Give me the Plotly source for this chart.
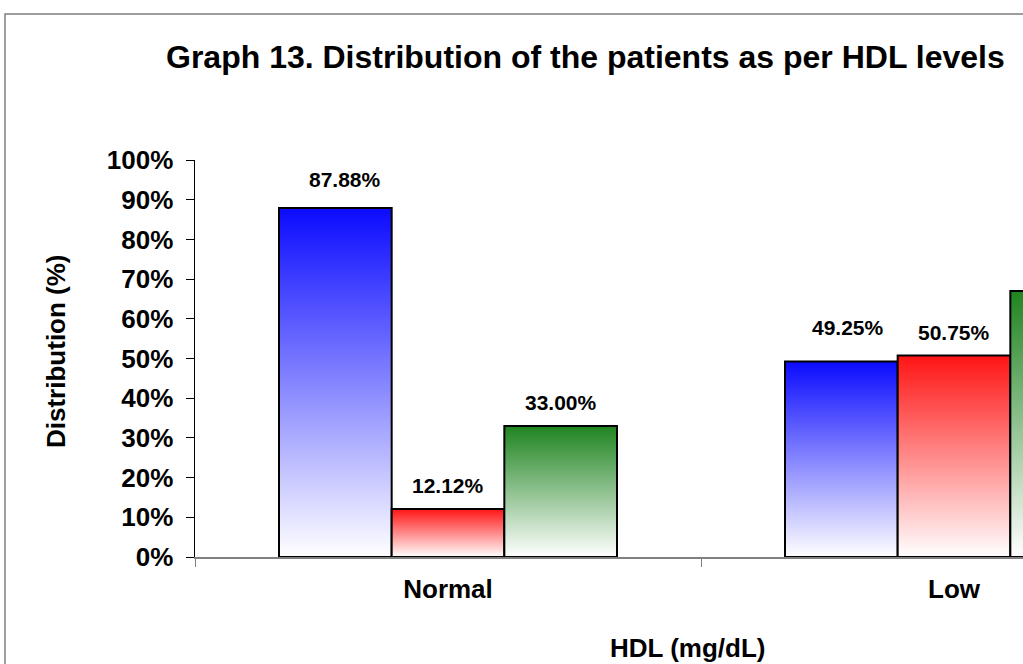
import json
import plotly.graph_objects as go

# HDL categories and the share of patients in each group
categories = ["Normal", "Low"]
series_names = ["Series 1", "Series 2", "Series 3"]
series_values = [
    [87.88, 49.25],
    [12.12, 50.75],
    [33.00, 67.00],
]
top_colors = ["#0B0BFF", "#FF1414", "#1F8420"]

# label placement (pixels above the bar top / sideways nudge)
label_lift = [[29, 34], [23, 23], [23, 23]]
label_nudge = [[10, 7], [0, 0], [0, 0]]

y_tick_vals = [0, 10, 20, 30, 40, 50, 60, 70, 80, 90, 100]
y_tick_text = [f"{v}%" for v in y_tick_vals]

FONT = "Liberation Sans, Arial, sans-serif"
BAR_GAP = 0.332

W, H = 1023, 664
L, T, B = 195, 160, 107
CAT_PX = 506
pw = W - L
ph = H - T - B


def px_x(p):
    return (p - L) / pw


def px_y(p):
    return (H - B - p) / ph


fig = go.Figure()
for name, vals, col in zip(series_names, series_values, top_colors):
    fig.add_trace(go.Bar(
        x=categories, y=vals, name=name,
        marker=dict(color=col, line=dict(color="black", width=2)),
        showlegend=False, hoverinfo="skip",
    ))

# value labels above each bar
n = len(series_values)
bw = (1 - BAR_GAP) / n
annotations = []
for i, vals in enumerate(series_values):
    for j, v in enumerate(vals):
        annotations.append(dict(
            x=j + (i - (n - 1) / 2) * bw, y=v, xref="x", yref="y",
            text=f"<b>{v:.2f}%</b>", showarrow=False, yanchor="middle",
            yshift=label_lift[i][j], xshift=label_nudge[i][j],
            font=dict(family=FONT, size=21, color="black"),
        ))

annotations += [
    dict(x=px_x(585), y=px_y(57), xref="paper", yref="paper",
         text="<b>Graph 13. Distribution of the patients as per HDL levels</b>",
         showarrow=False, font=dict(family=FONT, size=32, color="black"),
         xanchor="center", yanchor="middle"),
    dict(x=px_x(688), y=px_y(648), xref="paper", yref="paper",
         text="<b>HDL (mg/dL)</b>", showarrow=False,
         font=dict(family=FONT, size=26, color="black"),
         xanchor="center", yanchor="middle"),
    dict(x=px_x(56), y=px_y(351), xref="paper", yref="paper",
         text="<b>Distribution (%)</b>", showarrow=False, textangle=-90,
         font=dict(family=FONT, size=26, color="black"),
         xanchor="center", yanchor="middle"),
]

fig.update_layout(
    width=W, height=H,
    margin=dict(l=L, r=0, t=T, b=B, pad=0),
    paper_bgcolor="white", plot_bgcolor="white",
    barmode="group", bargap=BAR_GAP, bargroupgap=0,
    font=dict(family=FONT, color="black"),
    annotations=annotations,
    shapes=[dict(type="rect", xref="paper", yref="paper",
                 x0=px_x(5), y0=px_y(700), x1=px_x(1200), y1=px_y(14),
                 line=dict(color="#7f7f7f", width=1.5), fillcolor="rgba(0,0,0,0)",
                 layer="below")],
    xaxis=dict(
        range=[-0.5, -0.5 + pw / CAT_PX], type="category",
        showline=True, linecolor="#808080", linewidth=1.5,
        ticks="outside", ticklen=8, tickcolor="#808080", tickson="boundaries",
        tickfont=dict(family=FONT, size=26, color="black"),
        ticklabelstandoff=8,
        tickvals=categories, ticktext=[f"<b>{c}</b>" for c in categories],
        showgrid=False, zeroline=False, fixedrange=True,
    ),
    yaxis=dict(
        range=[0, 100], tickvals=y_tick_vals,
        ticktext=[f"<b>{t}</b>" for t in y_tick_text],
        showline=True, linecolor="black", linewidth=1.5,
        ticks="outside", ticklen=8, tickcolor="black",
        tickfont=dict(family=FONT, size=26, color="black"),
        ticklabelstandoff=7,
        showgrid=False, zeroline=False, fixedrange=True,
    ),
)

# vertical colour-to-white gradient fill for each series
gradient_js = """
var gd = document.getElementById('{plot_id}');
var tops = %s;
function paintBars() {
  var svg = gd.querySelector('svg.main-svg');
  if (!svg) return;
  var defs = svg.querySelector('defs');
  var ns = 'http://www.w3.org/2000/svg';
  tops.forEach(function (c, i) {
    var id = 'bargrad' + i;
    if (!svg.querySelector('#' + id)) {
      var g = document.createElementNS(ns, 'linearGradient');
      g.setAttribute('id', id);
      g.setAttribute('x1', '0'); g.setAttribute('y1', '0');
      g.setAttribute('x2', '0'); g.setAttribute('y2', '1');
      [[0, c], [1, '#ffffff']].forEach(function (s) {
        var st = document.createElementNS(ns, 'stop');
        st.setAttribute('offset', s[0]);
        st.setAttribute('stop-color', s[1]);
        g.appendChild(st);
      });
      defs.appendChild(g);
    }
  });
  gd.querySelectorAll('.barlayer .trace').forEach(function (tr, i) {
    tr.querySelectorAll('path').forEach(function (p) {
      p.style.fill = 'url(#bargrad' + i + ')';
    });
  });
}
paintBars();
gd.on('plotly_afterplot', paintBars);
""" % json.dumps(top_colors)

fig.write_html("out.html", post_script=gradient_js,
               config={"displayModeBar": False, "staticPlot": True})
